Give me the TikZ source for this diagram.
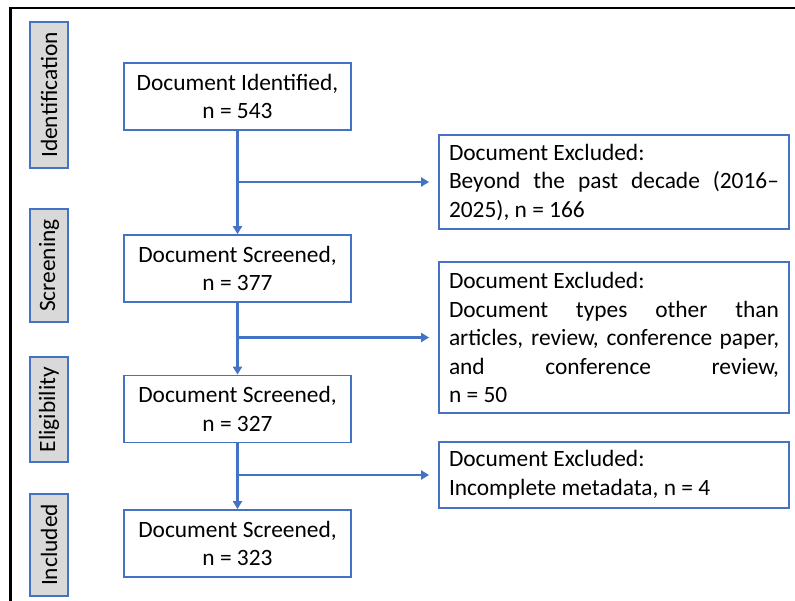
\documentclass[tikz,border=0pt]{standalone}
\usepackage{fontspec}
\setmainfont{Carlito}
\usetikzlibrary{arrows.meta}

\definecolor{boxblue}{HTML}{4472C4}
\definecolor{labelgray}{HTML}{D9D9D9}
\newcommand{\boxfont}{\fontsize{23.4}{28.5}\selectfont}

\tikzset{
  mainbox/.style={draw=boxblue, line width=1.8pt, minimum width=227pt, minimum height=67pt, align=center, font=\boxfont},
  sidebox/.style={draw=boxblue, fill=labelgray, line width=1.8pt, rotate=90, minimum height=38pt, inner sep=0pt, font=\boxfont},
  exbox/.style={draw=boxblue, line width=1.8pt, text width=330pt, inner xsep=10pt, align=justify, font=\boxfont,
    execute at begin node={\hyphenpenalty=10000}},
  flow/.style={draw=boxblue, line width=2.4pt, -{Triangle[length=8pt,width=9pt]}}
}

\begin{document}
\begin{tikzpicture}[x=1pt,y=-1pt]
\useasboundingbox (0,0) rectangle (795,600);
\draw [line width=2.2pt] (10.5,620) -- (10.5,8) -- (820,8);

% stage labels
\node [sidebox, minimum width=146pt] (ident) at (49,95) {Identification};
\node [sidebox, minimum width=113pt] (screen) at (49,265.5) {Screening};
\node [sidebox, minimum width=105pt] (elig) at (49,409.5) {Eligibility};
\node [sidebox, minimum width=102pt] (incl) at (49,545) {Included};

% main flow
\node [mainbox] (docid) at (237.5,96.5) {Document Identified,\\ n = 543};
\node [mainbox] (docsa) at (237.5,268.5) {Document Screened,\\ n = 377};
\node [mainbox] (docsb) at (237.5,409) {Document Screened,\\ n = 327};
\node [mainbox] (docsc) at (237.5,543.5) {Document Screened,\\ n = 323};

% exclusions
\node [exbox, minimum height=94pt] (exa) at (614,182) {Document Excluded:\\ Beyond the past decade (2016–\linebreak 2025), n = 166};
\node [exbox, minimum height=151pt] (exb) at (614,337.5) {Document Excluded:\\ Document types other than\linebreak articles, review, conference paper,\linebreak and conference review,\linebreak n = 50};
\node [exbox, minimum height=66pt] (exc) at (614,475) {Document Excluded:\\ Incomplete metadata, n = 4};

\draw [flow] (docid) -- (docsa);
\draw [flow] (docsa) -- (docsb);
\draw [flow] (docsb) -- (docsc);
\draw [flow, shorten >=9pt] (docid.south |- exa.west) -- (exa.west);
\draw [flow, shorten >=9pt] (docsa.south |- exb.west) -- (exb.west);
\draw [flow, shorten >=9pt] (docsb.south |- exc.west) -- (exc.west);
\end{tikzpicture}
\end{document}
